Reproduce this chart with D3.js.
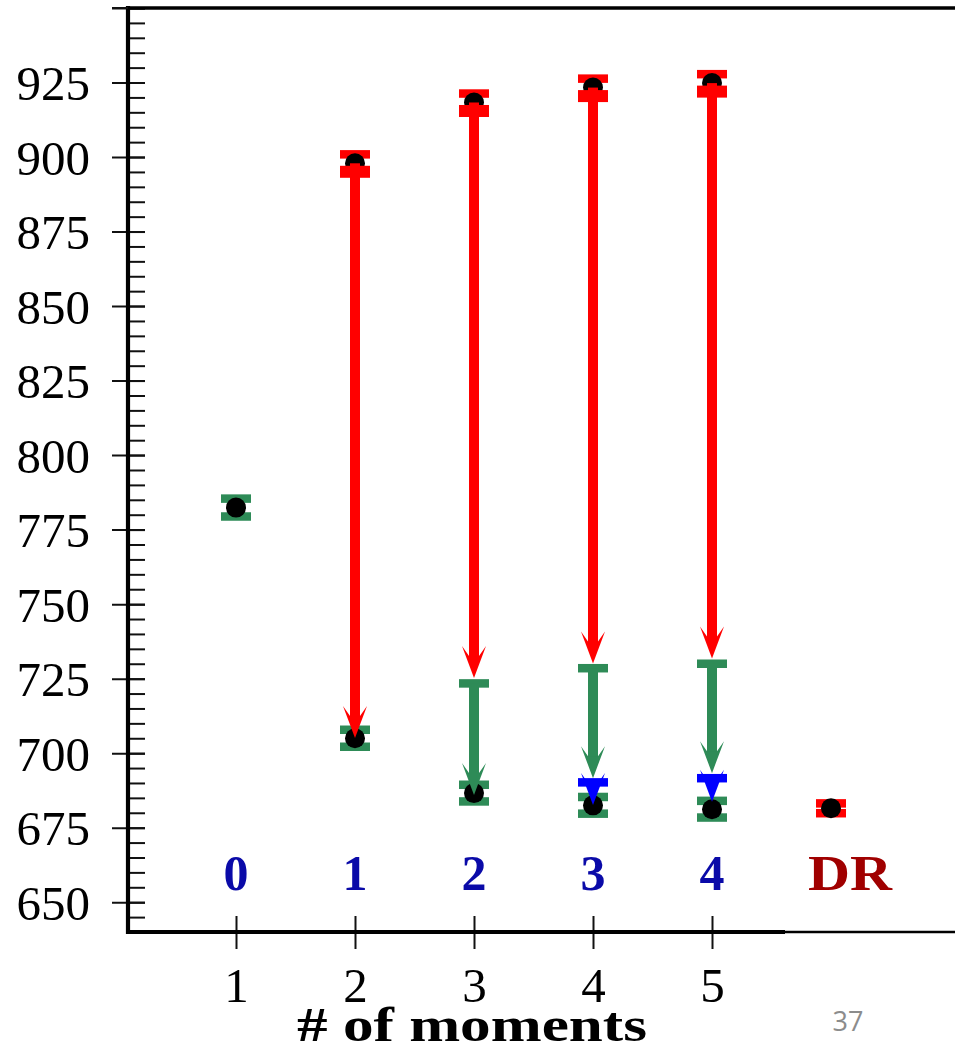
<!DOCTYPE html>
<html>
<head>
<meta charset="utf-8">
<script src="https://cdn.jsdelivr.net/npm/d3@7"></script>
<style>
  html, body { margin: 0; padding: 0; background: #fff; }
  svg { display: block; }
</style>
</head>
<body>
<div id="chart"></div>
<script>
// Number of moments on the x axis, with the model label drawn above each one
const moments = [1, 2, 3, 4, 5];
const momentLabels = ["0", "1", "2", "3", "4"];
const drLabel = "DR";
const drPos = 6;

// Final estimates (black dots with green error bars)
const finalVals = [782.4, 705.0, 686.6, 682.5, 681.2];
const finalErr = [3.0, 2.85, 2.8, 2.8, 2.8];

// DR reference value (red error bar)
const drVal = 681.5;
const drErr = 1.65;

// Starting estimates (red error bars) and where the red arrows land
const startMoments = [2, 3, 4, 5];
const startVals = [897.9, 918.3, 923.3, 924.8];
const startErr = [3.0, 3.0, 3.0, 3.0];
const redTips = [705.1, 725.2, 730.1, 731.8];

// Intermediate step (green caps) and where the green arrows land
const midMoments = [3, 4, 5];
const midVals = [723.4, 728.5, 730.0];
const greenTips = [686.0, 691.6, 693.3];

// Refinement step (blue caps) and where the blue arrows land
const refineMoments = [4, 5];
const refineVals = [690.2, 691.6];
const blueTips = [682.6, 683.7];

// Axis ticks
const majorTicks = [650, 675, 700, 725, 750, 775, 800, 825, 850, 875, 900, 925, 950];
const majorLabels = ["650", "675", "700", "725", "750", "775", "800", "825", "850", "875", "900", "925", ""];
const minorTicks = d3.range(640, 951, 5);

const W = 955, H = 1052;
const RED = "#ff0000", GREEN = "#2e8b57", BLUE = "#0000ff";
const SERIF = "'Liberation Serif', 'Times New Roman', serif";

const svg = d3.select("#chart").append("svg")
  .attr("width", W).attr("height", H)
  .style("background", "#fff");

const axisX = 128, topY = 8, bottomY = 932;

const x = d3.scaleLinear().domain([0, 7]).range([117, 950]);
const y = d3.scaleLinear().domain([640, 950]).range([bottomY, topY]);

// ---- y axis: minor ticks pointing inward
const minor = svg.append("g")
  .attr("transform", `translate(${axisX},0)`)
  .call(d3.axisRight(y).tickValues(minorTicks).tickSize(17).tickFormat(""));
minor.select(".domain").remove();
minor.selectAll("line").attr("stroke", "#111").attr("stroke-width", 2);

// ---- y axis: major ticks crossing the axis, with labels
const major = svg.append("g")
  .attr("transform", `translate(${axisX},0)`)
  .call(d3.axisLeft(y).tickValues(majorTicks).tickSize(16).tickPadding(22)
    .tickFormat((d, i) => majorLabels[i]));
major.select(".domain").remove();
major.selectAll("line").attr("x2", -16).attr("x1", 17).attr("stroke", "#111").attr("stroke-width", 2);
major.selectAll("text")
  .attr("font-family", SERIF).attr("font-size", 49).attr("fill", "#000")
  .attr("dy", "0.35em");

// ---- x axis ticks crossing the axis, with labels
const xa = svg.append("g")
  .attr("transform", `translate(0,${bottomY})`)
  .call(d3.axisBottom(x).tickValues(moments).tickSize(17).tickFormat(d3.format("d")));
xa.select(".domain").remove();
xa.selectAll("line").attr("y1", -16).attr("y2", 17).attr("stroke", "#111").attr("stroke-width", 2);
xa.selectAll("text")
  .attr("font-family", SERIF).attr("font-size", 49).attr("fill", "#000")
  .attr("y", 70).attr("dy", 0);

// ---- frame lines
svg.append("line").attr("x1", axisX).attr("x2", axisX).attr("y1", topY - 2).attr("y2", bottomY + 2)
  .attr("stroke", "#000").attr("stroke-width", 4.2);
svg.append("line").attr("x1", axisX).attr("x2", W).attr("y1", topY).attr("y2", topY)
  .attr("stroke", "#000").attr("stroke-width", 3.6);
svg.append("line").attr("x1", 112).attr("x2", axisX).attr("y1", topY).attr("y2", topY)
  .attr("stroke", "#111").attr("stroke-width", 2);
svg.append("line").attr("x1", axisX - 2).attr("x2", 785).attr("y1", bottomY).attr("y2", bottomY)
  .attr("stroke", "#000").attr("stroke-width", 4.2);
svg.append("line").attr("x1", 785).attr("x2", W).attr("y1", bottomY).attr("y2", bottomY)
  .attr("stroke", "#000").attr("stroke-width", 2.6);

// ---- helpers
const CAP_W = 30, CAP_H = 8.5, DOT_R = 10;

function cap(g, cx, v, color) {
  g.append("rect")
    .attr("x", cx - CAP_W / 2).attr("y", y(v) - CAP_H / 2)
    .attr("width", CAP_W).attr("height", CAP_H)
    .attr("fill", color);
}

function errorBar(g, cx, v, e, color) {
  g.append("line").attr("x1", cx).attr("x2", cx)
    .attr("y1", y(v + e)).attr("y2", y(v - e))
    .attr("stroke", color).attr("stroke-width", 4);
  cap(g, cx, v + e, color);
  cap(g, cx, v - e, color);
}

function arrow(g, cx, fromV, toV, color) {
  const tipY = y(toV);
  const notchY = tipY - 22;
  const wingY = tipY - 32;
  const y0 = y(fromV);
  if (y0 < notchY) {
    g.append("rect")
      .attr("x", cx - 5).attr("y", y0)
      .attr("width", 10).attr("height", notchY - y0 + 1)
      .attr("fill", color);
  }
  const head = [[cx, tipY], [cx - 12, wingY], [cx - 5, notchY], [cx + 5, notchY], [cx + 12, wingY]];
  g.append("path")
    .attr("d", d3.line()(head) + "Z")
    .attr("fill", color);
}

const marks = svg.append("g");

// error bars
moments.forEach((m, i) => errorBar(marks, x(m), finalVals[i], finalErr[i], GREEN));
errorBar(marks, x(drPos), drVal, drErr, RED);
startMoments.forEach((m, i) => errorBar(marks, x(m), startVals[i], startErr[i], RED));

// dots
const dots = moments.map((m, i) => [m, finalVals[i]])
  .concat(startMoments.map((m, i) => [m, startVals[i]]))
  .concat([[drPos, drVal]]);
marks.selectAll("circle.pt").data(dots).join("circle")
  .attr("class", "pt")
  .attr("cx", d => x(d[0])).attr("cy", d => y(d[1]))
  .attr("r", DOT_R).attr("fill", "#000");

// step caps
midMoments.forEach((m, i) => cap(marks, x(m), midVals[i], GREEN));
refineMoments.forEach((m, i) => cap(marks, x(m), refineVals[i], BLUE));

// red arrows with their wide tail block at the start
startMoments.forEach((m, i) => {
  const cx = x(m);
  marks.append("rect")
    .attr("x", cx - CAP_W / 2).attr("y", y(startVals[i]) + 2.5)
    .attr("width", CAP_W).attr("height", 12)
    .attr("fill", RED);
  arrow(marks, cx, startVals[i], redTips[i], RED);
});
midMoments.forEach((m, i) => arrow(marks, x(m), midVals[i], greenTips[i], GREEN));
refineMoments.forEach((m, i) => arrow(marks, x(m), refineVals[i], blueTips[i], BLUE));

// ---- model labels above the x axis
svg.append("g").selectAll("text").data(moments).join("text")
  .attr("x", d => x(d)).attr("y", 890)
  .attr("text-anchor", "middle")
  .attr("font-family", SERIF).attr("font-weight", "bold").attr("font-size", 50)
  .attr("fill", "#0a0aa8")
  .text((d, i) => momentLabels[i]);
svg.append("text")
  .attr("x", x(drPos) + 19).attr("y", 890)
  .attr("text-anchor", "middle")
  .attr("font-family", SERIF).attr("font-weight", "bold").attr("font-size", 50)
  .attr("textLength", 84).attr("lengthAdjust", "spacingAndGlyphs")
  .attr("fill", "#a00000")
  .text(drLabel);

// ---- x axis title
svg.append("text")
  .attr("x", 472).attr("y", 1041)
  .attr("text-anchor", "middle")
  .attr("font-family", SERIF).attr("font-weight", "bold").attr("font-size", 48)
  .attr("textLength", 350).attr("lengthAdjust", "spacingAndGlyphs")
  .attr("fill", "#000")
  .text("# of moments");

// ---- page number
svg.append("text")
  .attr("x", 848).attr("y", 1031)
  .attr("text-anchor", "middle")
  .attr("font-family", "'Open Sans', sans-serif").attr("font-size", 27)
  .attr("fill", "#8c8c8c")
  .text("37");
</script>
</body>
</html>
